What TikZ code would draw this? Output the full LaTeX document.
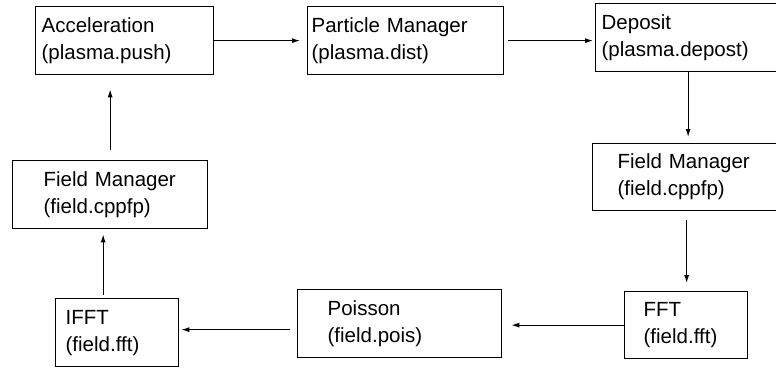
\documentclass[tikz,border=0pt]{standalone}
\usepackage{fontspec}
\setmainfont{Liberation Sans}
\usetikzlibrary{arrows.meta}
\newcommand{\boxfont}{\fontsize{20.5}{27}\selectfont}
\tikzset{
  blk/.style={draw, line width=1.3pt, anchor=north west, minimum height=68pt,
    align=left, font=\boxfont},
  arr/.style={line width=1.1pt, -{Latex[length=8pt,width=5pt]}}
}
\begin{document}
\begin{tikzpicture}[x=1pt,y=-1pt]
                \useasboundingbox (0,0) rectangle (776,367);
                %riga in alto
                \node[blk, inner xsep=6pt, text width=166pt] (acc) at (35,6) {Acceleration\\(plasma.push)};
                \node[blk, inner xsep=4pt, text width=188pt] (pm) at (307,6) {Particle Manager\\(plasma.dist)};
                \node[blk, inner xsep=6pt, text width=173pt] (dep) at (595,3) {Deposit\\(plasma.depost)};
                %colonna a destra
                \node[blk, inner xsep=25pt, text width=138pt, minimum height=67pt] (fmr) at (592,143) {Field Manager\\(field.cppfp)};
                %riga in basso
                \node[blk, inner xsep=19pt, text width=85pt, minimum height=67pt] (fft) at (624,291) {FFT\\(field.fft)};
                \node[blk, inner xsep=30pt, text width=144pt] (poi) at (297,289) {Poisson\\(field.pois)};
                \node[blk, inner xsep=10pt, text width=103pt] (ifft) at (55,298) {IFFT\\(field.fft)};
                %colonna a sinistra
                \node[blk, inner xsep=31pt, text width=133pt] (fml) at (12,160) {Field Manager\\(field.cppfp)};
                %frecce
                \draw[arr, shorten >=7pt] (acc.east) -- (acc.east -| pm.west);
                \draw[arr, shorten <=4pt, shorten >=2pt] (pm.east) -- (pm.east -| dep.west);
                \draw[arr, shorten >=6pt] (dep.south) -- (dep.south |- fmr.north);
                \draw[arr, shorten <=9pt, shorten >=8pt] (fmr.south) -- (fmr.south |- fft.north);
                \draw[arr, shorten >=9pt] (fft.west) -- (fft.west -| poi.east);
                \draw[arr, shorten <=7pt, shorten >=2pt] ([yshift=3pt]ifft.east -| poi.west) -- ([yshift=3pt]ifft.east);
                \draw[arr, shorten <=3pt, shorten >=5pt] ([xshift=-14pt]ifft.north) -- ([xshift=-14pt]ifft.north |- fml.south);
                \draw[arr, shorten <=10pt, shorten >=14pt] (fml.north) -- (fml.north |- acc.south);
\end{tikzpicture}
\end{document}
